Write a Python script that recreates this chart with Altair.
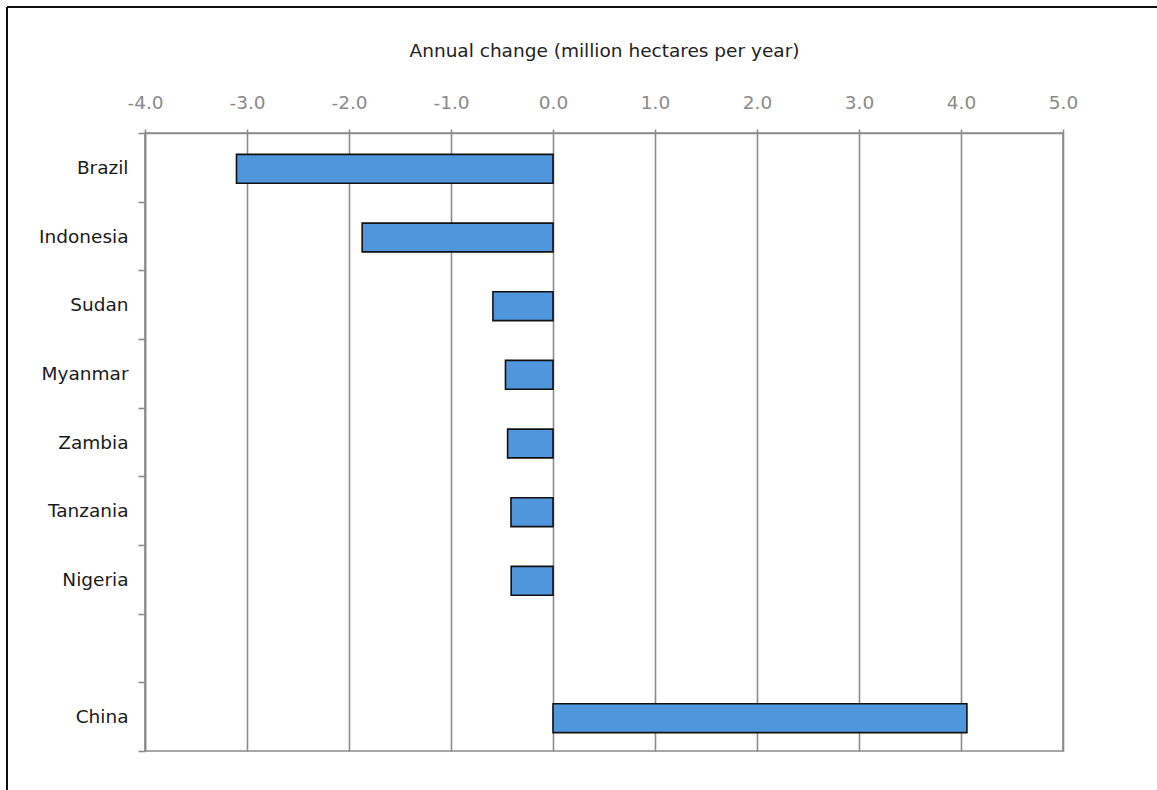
import altair as alt
import pandas as pd

# Net annual change in forest area, 2000-2005 (million hectares per year)
countries = ["Brazil", "Indonesia", "Sudan", "Myanmar", "Zambia", "Tanzania", "Nigeria", "China"]
annual_change = [-3.103, -1.871, -0.589, -0.466, -0.445, -0.412, -0.410, 4.058]

# Category slots on the y axis; the blank slot separates the gainers from the losers
y_slots = ["Brazil", "Indonesia", "Sudan", "Myanmar", "Zambia", "Tanzania", "Nigeria", " ", "China"]
x_ticks = [-4, -3, -2, -1, 0, 1, 2, 3, 4, 5]

df = pd.DataFrame({"country": countries, "change": annual_change})

FONT = "DejaVu Sans"
GRID = "#8c8c8c"

W, H = 918, 618

bars = (
    alt.Chart(df)
    .mark_bar(
        height={"band": 0.42},
        yOffset=1.5,
        color="#5096DC",
        stroke="#111111",
        strokeWidth=1.6,
    )
    .encode(
        x=alt.X(
            "change:Q",
            scale=alt.Scale(domain=[-4, 5], nice=False, zero=False),
            axis=alt.Axis(
                orient="top",
                values=x_ticks,
                labelExpr="(datum.value < 0 ? '-' : '') + format(abs(datum.value), '.1f')",
                labelFlush=False,
                labelOverlap=False,
                title="Annual change (million hectares per year)",
                titleFont=FONT,
                titleFontSize=18.5,
                titleFontWeight="normal",
                titleColor="#222222",
                titlePadding=33,
                labelFont=FONT,
                labelFontSize=18.5,
                labelColor="#8a8a8a",
                labelPadding=17,
                tickSize=4,
                tickColor=GRID,
                tickWidth=1.6,
                domainColor=GRID,
                domainWidth=1.6,
                grid=True,
                gridColor=GRID,
                gridWidth=1.6,
            ),
        ),
        y=alt.Y(
            "country:N",
            scale=alt.Scale(domain=y_slots, paddingInner=0, paddingOuter=0),
            axis=alt.Axis(
                title=None,
                tickBand="extent",
                labelFont=FONT,
                labelFontSize=18.5,
                labelColor="#1a1a1a",
                labelPadding=10,
                tickSize=7,
                tickColor=GRID,
                tickWidth=1.6,
                domainColor=GRID,
                domainWidth=1.6,
                grid=False,
            ),
        ),
    )
)

# Outer chart frame (top and left edges)
frame_top = alt.Chart(df).mark_rule(color="#111111", strokeWidth=2).encode(
    x=alt.value(-138), x2=alt.value(W + 200), y=alt.value(-126)
)
frame_left = alt.Chart(df).mark_rule(color="#111111", strokeWidth=2).encode(
    x=alt.value(-138), y=alt.value(-126), y2=alt.value(H + 200)
)

chart = (
    alt.layer(bars, frame_top, frame_left)
    .properties(
        width=W,
        height=H,
        autosize=alt.AutoSizeParams(type="none"),
        padding={"left": 145, "top": 133, "right": 94, "bottom": 39},
        background="white",
    )
    .configure_view(stroke=GRID, strokeWidth=1.6)
)

chart.save("out.html", embed_options={"renderer": "svg", "actions": False})
